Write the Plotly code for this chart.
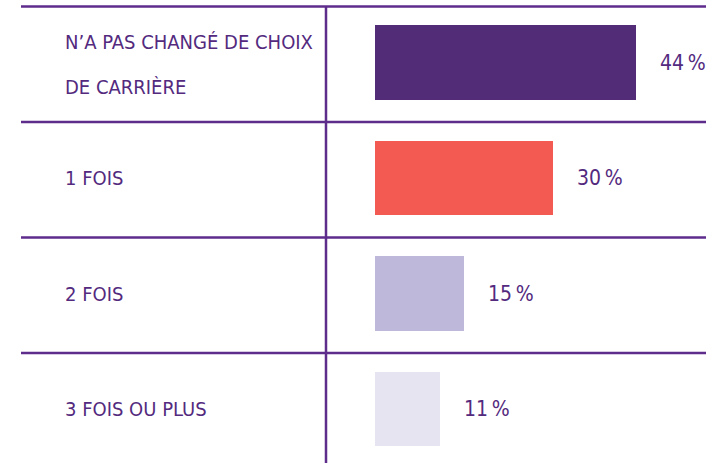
import plotly.graph_objects as go

categories = ["N’A PAS CHANGÉ DE CHOIX<br>DE CARRIÈRE", "1 FOIS", "2 FOIS", "3 FOIS OU PLUS"]
values = [44, 30, 15, 11]
value_labels = ["44\u202f%", "30\u202f%", "15\u202f%", "11\u202f%"]
bar_colors = ["#532c77", "#f25a52", "#beb8db", "#e6e4f1"]

W, H = 706, 463
LINE = "#5e2d8c"
TEXT = "#532a7e"
FONT = "DejaVu Sans Condensed, Liberation Sans Narrow, sans-serif"

pos = list(range(len(categories)))

fig = go.Figure()
fig.add_trace(go.Bar(
    x=values, y=pos, orientation="h",
    marker=dict(color=bar_colors, line=dict(width=0)),
    width=0.649, hoverinfo="skip",
))

# pixel mapping: row i centre at 62.5 + 115.5*i ; bars start at x=375, 5.94 px per unit
pitch = 115.5
y0 = 62.5
yr = [(H - y0) / pitch, -y0 / pitch]
x_left = 375
k = 5.94
xr = [0, (W - x_left) / k]

shapes = []
for i in pos:
    shapes.append(dict(type="line", xref="paper", yref="y",
                       x0=21 / W, x1=1, y0=i - 0.485, y1=i - 0.485,
                       line=dict(color=LINE, width=2.5)))
shapes.append(dict(type="line", xref="paper", yref="paper",
                   x0=326 / W, x1=326 / W, y0=0, y1=1 - 7 / H,
                   line=dict(color=LINE, width=2.5)))

annotations = []
for i, (cat, lab, v) in enumerate(zip(categories, value_labels, values)):
    lines = cat.split("<br>")
    if len(lines) == 1:
        shifts = [0]
    else:
        shifts = [21, -24.5]
    for ln, sh in zip(lines, shifts):
        annotations.append(dict(x=63 / W, xref="paper", y=i, yref="y",
                                text=ln, showarrow=False, xanchor="left",
                                yanchor="middle", yshift=sh,
                                font=dict(family=FONT, size=20, color=TEXT)))
    annotations.append(dict(x=v, xref="x", y=i, yref="y", text=lab,
                            showarrow=False, xanchor="left", yanchor="middle",
                            xshift=22,
                            font=dict(family=FONT, size=21, color=TEXT)))

fig.update_layout(
    width=W, height=H,
    margin=dict(l=0, r=0, t=0, b=0),
    paper_bgcolor="white", plot_bgcolor="white",
    showlegend=False,
    xaxis=dict(domain=[x_left / W, 1], range=xr, visible=False, fixedrange=True),
    yaxis=dict(range=yr, visible=False, fixedrange=True),
    shapes=shapes, annotations=annotations,
    bargap=0,
)

fig.write_html("out.html", config={"displayModeBar": False},
               post_script="document.body.style.margin='0';document.body.style.overflow='hidden';")
